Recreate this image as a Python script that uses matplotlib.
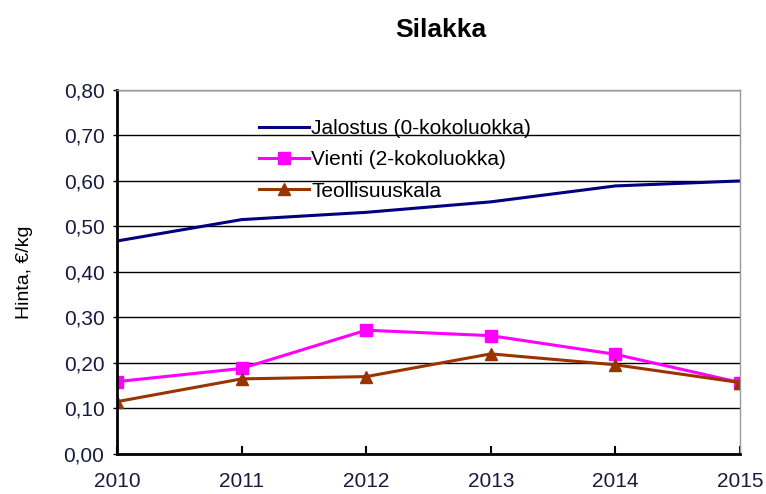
import matplotlib
matplotlib.use("Agg")
import matplotlib.pyplot as plt
from matplotlib.ticker import FuncFormatter

plt.rcParams['font.family'] = ['Liberation Sans', 'DejaVu Sans']

years = [2010, 2011, 2012, 2013, 2014, 2015]
jalostus = [0.468, 0.515, 0.531, 0.554, 0.589, 0.600]
vienti = [0.159, 0.188, 0.272, 0.260, 0.219, 0.157]
teollisuus = [0.115, 0.165, 0.170, 0.220, 0.196, 0.157]

labels = ['Jalostus (0-kokoluokka)', 'Vienti (2-kokoluokka)', 'Teollisuuskala']

fig = plt.figure(figsize=(7.66, 4.94), dpi=100)
ax = fig.add_axes([0.1527, 0.081, 0.8133, 0.737])

ax.plot(years, jalostus, color='#000080', lw=2.2, label=labels[0])
ax.plot(years, vienti, color='#FF00FF', lw=2.2, marker='s', ms=9, label=labels[1])
ax.plot(years, teollisuus, color='#993300', lw=2.2, marker='^', ms=9, label=labels[2])

ax.set_xlim(2010, 2015)
ax.set_ylim(0, 0.8)
ax.set_yticks([i / 10 for i in range(9)])
ax.set_xticks(years)
ax.yaxis.set_major_formatter(FuncFormatter(lambda v, p: f'{v:.2f}'.replace('.', ',')))

# gridlines on y only
ax.grid(axis='y', color='black', lw=1)
ax.set_axisbelow(True)

for s in ['top', 'right']:
    ax.spines[s].set_color('#999999')
    ax.spines[s].set_linewidth(1)
for s in ['left', 'bottom']:
    ax.spines[s].set_color('black')
    ax.spines[s].set_linewidth(2)

ax.tick_params(axis='x', direction='in', length=6, width=1.5, labelsize=15, pad=13)
ax.tick_params(axis='y', direction='out', length=3, width=1, labelsize=15, pad=6)
for lab in ax.get_xticklabels() + ax.get_yticklabels():
    lab.set_color('#1a1a40')

ax.set_ylabel('Hinta, €/kg', fontsize=14, labelpad=22)
ax.set_title('Silakka', fontsize=19, fontweight='bold', pad=38, x=0.52)

ax.legend(loc='upper left', bbox_to_anchor=(0.215, 0.942), frameon=False,
          fontsize=15, handlelength=2.4, handletextpad=0.1, labelspacing=0.58,
          borderaxespad=0)

fig.savefig('out.png', dpi=100)
